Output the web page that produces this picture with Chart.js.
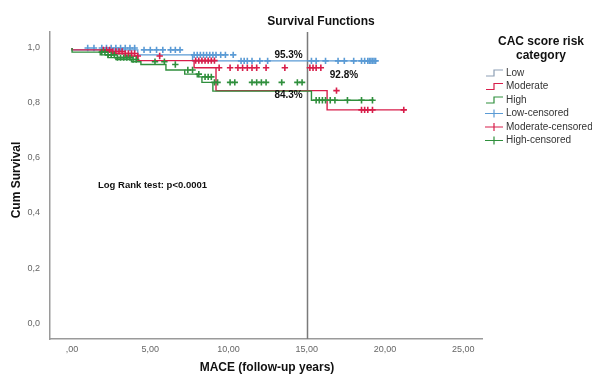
<!DOCTYPE html>
<html>
<head>
<meta charset="utf-8">
<script src="https://cdn.jsdelivr.net/npm/chart.js@4/dist/chart.umd.min.js"></script>
<style>
  html, body { margin: 0; padding: 0; background: #fff; }
  #wrap { width: 592px; height: 376px; position: relative; }
</style>
</head>
<body>
<div id="wrap"><canvas id="km"></canvas></div>
<script>
// Kaplan-Meier step curves: time of each step and survival after it (last entry = end of follow-up)
const lowTimes = [0, 4.2, 7.7, 10.7, 19.4];
const lowSurv  = [1.0, 0.993, 0.975, 0.953, 0.953];

const modTimes = [0, 1.8, 2.6, 3.4, 4.2, 7.8, 9.2, 16.3, 18.4, 21.3];
const modSurv  = [1.0, 0.993, 0.987, 0.98, 0.971, 0.954, 0.928, 0.845, 0.775, 0.775];

const highTimes = [0, 1.8, 2.3, 2.8, 3.8, 4.4, 6.0, 7.2, 8.0, 8.3, 9.0, 15.3, 15.5, 19.3];
const highSurv  = [1.0, 0.985, 0.975, 0.965, 0.958, 0.95, 0.94, 0.92, 0.905, 0.895, 0.875, 0.843, 0.81, 0.81];

// censored follow-up times
const lowCensored = [1.0, 1.4, 1.9, 2.2, 2.5, 2.8, 3.1, 3.4, 3.7, 4.0, 4.6, 5.0, 5.4, 5.8, 6.3, 6.6, 6.9,
  7.8, 8.0, 8.2, 8.4, 8.6, 8.8, 9.0, 9.2, 9.5, 9.8, 10.3, 10.8, 11.0, 11.2, 11.5, 12.0, 12.5,
  15.3, 15.6, 16.2, 17.0, 17.4, 18.0, 18.5, 18.7, 18.9, 19.0, 19.1, 19.2, 19.3, 19.4];
const modCensored = [2.0, 2.2, 2.4, 2.6, 2.8, 3.0, 3.2, 3.4, 3.6, 3.8, 4.0, 4.2, 5.6, 7.9, 8.1, 8.3, 8.5,
  8.7, 8.9, 9.1, 9.4, 10.1, 10.6, 10.9, 11.2, 11.5, 11.8, 12.4, 13.6, 15.2, 15.4, 15.6, 15.9,
  16.9, 18.5, 18.7, 18.9, 19.2, 21.2];
const highCensored = [1.9, 2.1, 2.3, 2.5, 2.7, 2.9, 3.1, 3.3, 3.5, 3.7, 3.9, 4.1, 5.3, 5.9, 6.6, 7.4, 7.7,
  8.1, 8.5, 8.7, 8.9, 9.1, 9.3, 10.1, 10.4, 11.5, 11.8, 12.1, 12.4, 13.4, 14.4, 14.7, 15.6, 15.8,
  16.0, 16.2, 16.5, 16.8, 17.6, 18.5, 19.2];

const groupNames = ['Low', 'Moderate', 'High'];
const xTicks = [0, 5, 10, 15, 20, 25];
const yTicks = [0, 0.2, 0.4, 0.6, 0.8, 1.0];
const refYear = 15;
const pctLabels = ['95.3%', '92.8%', '84.3%'];
const pctValues = [0.953, 0.928, 0.843];

const colors = ['#5b9bd5', '#d81e4b', '#2f8f3c'];
const legendLineColors = ['#8d9fb5', '#d81e4b', '#2f8f3c'];

function survivalAt(times, surv, t) {
  let s = surv[0];
  for (let i = 0; i < times.length; i++) {
    if (times[i] <= t) s = surv[i];
  }
  return s;
}

const curves = [[lowTimes, lowSurv], [modTimes, modSurv], [highTimes, highSurv]];
const censored = [lowCensored, modCensored, highCensored];

const datasets = [];
// draw order: high, moderate, low on top
[2, 1, 0].forEach(g => {
  const [times, surv] = curves[g];
  datasets.push({
    label: groupNames[g],
    data: times.map((t, i) => ({ x: t, y: surv[i] })),
    showLine: true,
    stepped: 'after',
    borderColor: colors[g],
    borderWidth: 1.4,
    pointRadius: 0
  });
  datasets.push({
    label: groupNames[g] + '-censored',
    data: censored[g].map(t => ({ x: t, y: survivalAt(times, surv, t) })),
    showLine: false,
    pointStyle: 'cross',
    pointRadius: 3.2,
    borderColor: colors[g],
    borderWidth: 1.6
  });
});

const fontFamily = '"Liberation Sans", Arial, sans-serif';

const annotations = {
  id: 'annotations',
  beforeDatasetsDraw(chart) {
    const { ctx, chartArea, scales: { x } } = chart;
    const px = Math.round(x.getPixelForValue(refYear)) + 0.5;
    ctx.save();
    ctx.strokeStyle = '#7a7a7a';
    ctx.lineWidth = 1.5;
    ctx.beginPath();
    ctx.moveTo(px, chartArea.top);
    ctx.lineTo(px, chartArea.bottom);
    ctx.stroke();
    ctx.restore();
  },
  afterDraw(chart) {
    const { ctx, scales: { x, y } } = chart;
    const px = x.getPixelForValue(refYear);
    ctx.save();
    ctx.fillStyle = '#111';
    ctx.textBaseline = 'middle';

    ctx.font = 'bold 12px ' + fontFamily;
    ctx.textAlign = 'center';
    ctx.fillText('Survival Functions', 321, 22);
    ctx.fillText('MACE (follow-up years)', 267, 368);
    ctx.save();
    ctx.translate(17, 180);
    ctx.rotate(-Math.PI / 2);
    ctx.fillText('Cum Survival', 0, 0);
    ctx.restore();

    // survival at the reference year
    ctx.font = 'bold 10px ' + fontFamily;
    ctx.textAlign = 'right';
    ctx.fillText(pctLabels[0], px - 4, y.getPixelForValue(pctValues[0]) - 6);
    ctx.textAlign = 'left';
    ctx.fillText(pctLabels[1], px + 23, y.getPixelForValue(pctValues[1]) + 7);
    ctx.textAlign = 'right';
    ctx.fillText(pctLabels[2], px - 4, y.getPixelForValue(pctValues[2]) + 4);

    ctx.textAlign = 'left';
    ctx.font = 'bold 9.5px ' + fontFamily;
    ctx.fillText('Log Rank test: p<0.0001', 98, 185);

    // legend
    ctx.textAlign = 'center';
    ctx.font = 'bold 12px ' + fontFamily;
    ctx.fillText('CAC score risk', 541, 42);
    ctx.fillText('category', 541, 56);

    ctx.font = '10px ' + fontFamily;
    ctx.textAlign = 'left';
    ctx.fillStyle = '#333';
    ctx.lineWidth = 1.2;
    const rowY = [73, 86.5, 100, 113.5, 127, 140.5];
    for (let g = 0; g < 3; g++) {
      const yy = rowY[g];
      ctx.strokeStyle = legendLineColors[g];
      ctx.beginPath();
      ctx.moveTo(486, yy + 3);
      ctx.lineTo(494, yy + 3);
      ctx.lineTo(494, yy - 3);
      ctx.lineTo(503, yy - 3);
      ctx.stroke();
      ctx.fillText(groupNames[g], 506, yy);

      const yc = rowY[g + 3];
      ctx.strokeStyle = colors[g];
      ctx.beginPath();
      ctx.moveTo(485, yc);
      ctx.lineTo(503, yc);
      ctx.moveTo(494, yc - 4);
      ctx.lineTo(494, yc + 4);
      ctx.stroke();
      ctx.fillText(groupNames[g] + '-censored', 506, yc);
    }
    ctx.restore();
  }
};

new Chart(document.getElementById('km'), {
  type: 'scatter',
  data: { datasets },
  options: {
    responsive: true,
    maintainAspectRatio: false,
    animation: false,
    layout: { padding: { top: 32, right: 110, left: 0, bottom: 0 } },
    plugins: {
      legend: { display: false },
      title: { display: false },
      tooltip: { enabled: false }
    },
    scales: {
      x: {
        type: 'linear',
        min: -1.41,
        max: 26.2,
        afterFit: s => { s.height = 37; },
        afterBuildTicks: s => { s.ticks = xTicks.map(v => ({ value: v })); },
        grid: { display: false, drawTicks: false },
        border: { display: true, color: '#9a9a9a', width: 1.5 },
        ticks: {
          padding: 5,
          color: '#666',
          font: { family: fontFamily, size: 9 },
          callback: v => v === 0 ? ',00' : v.toFixed(2).replace('.', ',')
        }
      },
      y: {
        min: -0.058,
        max: 1.058,
        afterFit: s => { s.width = 50; },
        afterBuildTicks: s => { s.ticks = yTicks.map(v => ({ value: v })); },
        grid: { display: false, drawTicks: false },
        border: { display: true, color: '#9a9a9a', width: 1.5 },
        ticks: {
          padding: 10,
          color: '#666',
          font: { family: fontFamily, size: 9 },
          callback: v => v.toFixed(1).replace('.', ',')
        }
      }
    }
  },
  plugins: [annotations]
});
</script>
</body>
</html>
